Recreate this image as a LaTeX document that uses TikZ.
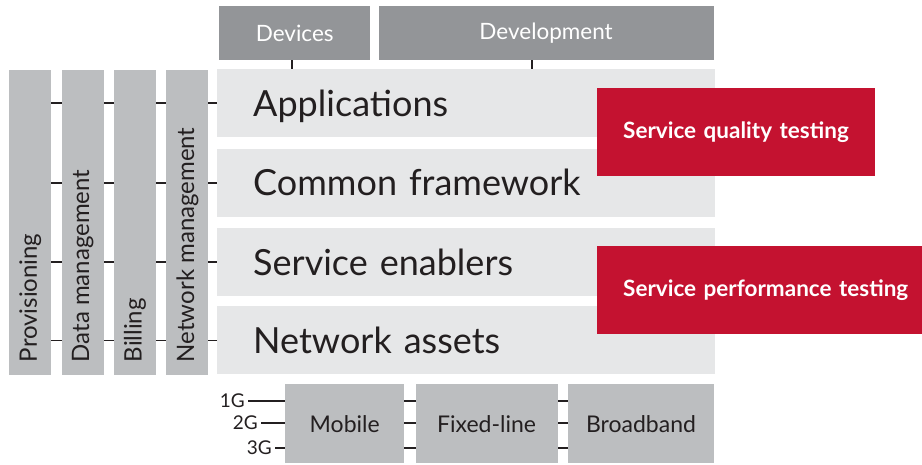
\documentclass[tikz,border=0pt]{standalone}
\usepackage{fontspec}
\setmainfont{Lato}
\usetikzlibrary{positioning, backgrounds}
\definecolor{topGray}{HTML}{939598}
\definecolor{barGray}{HTML}{BCBEC0}
\definecolor{layerGray}{HTML}{E6E7E8}
\definecolor{testRed}{HTML}{C41230}
\definecolor{inkBlack}{HTML}{231F20}

\begin{document}
\begin{tikzpicture}[
    x=1pt, y=-1pt,
    topbox/.style={
        fill=topGray, minimum height=54pt, inner sep=0pt,
        text=white, font=\fontsize{22.5}{26}\selectfont
    },
    layerbox/.style={
        fill=layerGray, minimum height=68pt,
        inner xsep=36pt, inner ysep=0pt, text width=426pt,
        align=left, text height=26pt, text depth=0pt,
        text=inkBlack, font=\fontsize{36}{42}\selectfont
    },
    sidebar/.style={
        fill=barGray, minimum width=42pt, minimum height=305pt,
        inner sep=0pt
    },
    barlabel/.style={
        rotate=90, anchor=west, inner sep=0pt,
        text=inkBlack, font=\fontsize{24}{28}\selectfont
    },
    testbox/.style={
        fill=testRed, minimum height=88pt,
        inner xsep=26pt, inner ysep=0pt, align=left,
        text=white, font=\bfseries\fontsize{22.5}{26}\selectfont
    },
    accessbox/.style={
        fill=barGray, minimum height=79pt, inner sep=0pt,
        text=inkBlack, font=\fontsize{23}{27}\selectfont
    },
    genlabel/.style={
        anchor=east, inner sep=0pt, text height=13pt, text depth=0pt,
        text=inkBlack, font=\fontsize{19}{22}\selectfont
    },
    linkline/.style={draw=inkBlack, line width=1.8pt},
]
\useasboundingbox (0,0) rectangle (922,464);

% ============================================================
%  TOP: devices and development
% ============================================================
\node[topbox, minimum width=151pt, anchor=north west] (devices) at (219,6)
    {Devices};
\node[topbox, minimum width=335pt, right=8pt of devices] (devel)
    {Development};

% ============================================================
%  LAYER STACK
% ============================================================
\node[layerbox, anchor=north west] (apps) at (217,69) {Applications};
\node[layerbox, below=11pt of apps] (common) {Common framework};
\node[layerbox, below=11pt of common] (enablers) {Service enablers};
\node[layerbox, below=10pt of enablers] (assets) {Network assets};

% ============================================================
%  SIDE BARS
% ============================================================
\node[sidebar, anchor=north west] (prov) at (9,70) {};
\node[sidebar, right=10pt of prov] (datamgmt) {};
\node[sidebar, right=10pt of datamgmt] (billing) {};
\node[sidebar, right=10pt of billing] (netmgmt) {};

\node[barlabel] (provtext) at ([yshift=13pt]prov.south) {Provisioning};
\node[barlabel] (datatext) at ([yshift=13pt]datamgmt.south) {Data management};
\node[barlabel] (billtext) at ([yshift=13pt]billing.south) {Billing};
\node[barlabel] (nettext) at ([yshift=13pt]netmgmt.south) {Network management};

% ============================================================
%  TESTING BLOCKS
% ============================================================
\node[testbox, text width=226pt, anchor=north west] (quality) at (597,88)
    {Service quality testing};
\node[testbox, text width=300pt, anchor=north west] (perf) at (597,246)
    {Service performance testing};

% ============================================================
%  ACCESS NETWORKS
% ============================================================
\node[accessbox, minimum width=119pt, anchor=north west] (mobile) at (285,384)
    {Mobile};
\node[accessbox, minimum width=142pt, right=11pt of mobile] (fixed)
    {Fixed-line};
\node[accessbox, minimum width=146pt, right=10pt of fixed] (broadband)
    {Broadband};

\node[genlabel] (gen1) at (245,401) {1G};
\node[genlabel] (gen2) at (258,423) {2G};
\node[genlabel] (gen3) at (272,448) {3G};

% ============================================================
%  CONNECTORS (behind the boxes)
% ============================================================
\begin{scope}[on background layer]
    \foreach \lay in {apps, common, enablers, assets}
        \draw[linkline] (\lay.west) -- (\lay.west -| prov.east);
    \foreach \gen in {gen1, gen2, gen3}
        \draw[linkline] ([xshift=3pt]\gen.east) -- (\gen.east -| broadband.west);
    \draw[linkline] ([xshift=-3pt]devices.south)
        -- ([xshift=-3pt]devices.south |- apps.north);
    \draw[linkline] ([xshift=-14pt]devel.south)
        -- ([xshift=-14pt]devel.south |- apps.north);
\end{scope}

\end{tikzpicture}
\end{document}
